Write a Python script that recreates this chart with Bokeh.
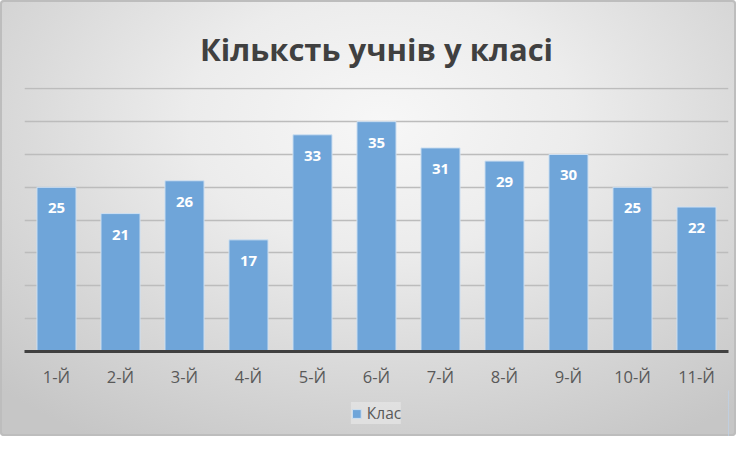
from bokeh.plotting import figure
from bokeh.layouts import column
from bokeh.models import ColumnDataSource, Legend, LegendItem, SingleIntervalTicker, Range1d
from bokeh.core.properties import value
from bokeh.embed import file_html
from bokeh.resources import INLINE

classes = ["1-Й", "2-Й", "3-Й", "4-Й", "5-Й", "6-Й", "7-Й", "8-Й", "9-Й", "10-Й", "11-Й"]
students = [25, 21, 26, 17, 33, 35, 31, 29, 30, 25, 22]
title_text = "Кільксть учнів у класі"
series_name = "Клас"

BAR_FILL = "#6fa5d9"
BAR_LINE = "#cfe0f1"

src = ColumnDataSource(dict(cls=classes, n=students, lbl=[str(v) for v in students]))

p = figure(x_range=classes, y_range=(0, 40.2), width=736, height=390,
           output_backend="svg", toolbar_location=None,
           min_border_left=24, min_border_right=8, min_border_top=87, min_border_bottom=36)
p.background_fill_color = None
p.border_fill_color = None
p.outline_line_color = None

p.title.text = title_text
p.title.align = "center"
p.title.offset = 8
p.title.text_font = "Open Sans"
p.title.text_font_style = "bold"
p.title.text_font_size = "31px"
p.title.text_color = "#404040"
p.title.standoff = 36

bars = p.vbar(x="cls", top="n", width=0.61, source=src,
              fill_color=BAR_FILL, line_color=BAR_LINE, line_width=1)

p.text(x="cls", y="n", text="lbl", source=src, text_align="center", text_baseline="middle",
       y_offset=21, text_color="white", text_font=value("Open Sans"), text_font_style="bold",
       text_font_size="15px")

p.yaxis.visible = False
p.ygrid.ticker = SingleIntervalTicker(interval=5)
p.ygrid.grid_line_color = "#bcbcbc"
p.ygrid.grid_line_width = 1.5
p.xgrid.grid_line_color = None

p.xaxis.axis_line_color = "#404040"
p.xaxis.axis_line_width = 3
p.xaxis.major_tick_line_color = None
p.xaxis.minor_tick_line_color = None
p.xaxis.major_tick_out = 0
p.xaxis.major_tick_in = 0
p.xaxis.major_label_text_font = "Open Sans"
p.xaxis.major_label_text_font_size = "16.5px"
p.xaxis.major_label_text_color = "#595959"
p.xaxis.major_label_standoff = 13
p.x_range.range_padding = 0

# legend strip
lg = figure(width=736, height=46, x_range=Range1d(0, 1), y_range=Range1d(0, 1),
            x_axis_type=None, y_axis_type=None,
            output_backend="svg", toolbar_location=None,
            min_border_left=0, min_border_right=0, min_border_top=0, min_border_bottom=0)
lg.background_fill_color = None
lg.border_fill_color = None
lg.outline_line_color = None
lg.grid.visible = False
dummy = lg.vbar(x=[5], top=[1], width=0.5, fill_color=BAR_FILL, line_color=BAR_LINE, line_width=1)

legend = Legend(items=[LegendItem(label=series_name, renderers=[dummy])],
                orientation="horizontal", location="center")
legend.label_text_font = "Open Sans"
legend.label_text_font_size = "15.5px"
legend.label_text_color = "#595959"
legend.glyph_width = 11
legend.glyph_height = 11
legend.label_standoff = 5
legend.padding = 8
legend.margin = 0
legend.background_fill_color = "#e4e4e4"
legend.background_fill_alpha = 0.8
legend.border_line_color = None
lg.add_layout(legend, "center")

layout = column(p, lg, spacing=0)
layout.styles = {
    "background": "radial-gradient(ellipse 75% 85% at 52% 28%, #f7f7f7 0%, #ececec 35%, #dadada 65%, #c6c6c6 100%)",
    "box-shadow": "inset 0 0 0 2px #bdbdbd",
    "border-radius": "4px",
}

open("out.html", "w").write(file_html(layout, INLINE))
